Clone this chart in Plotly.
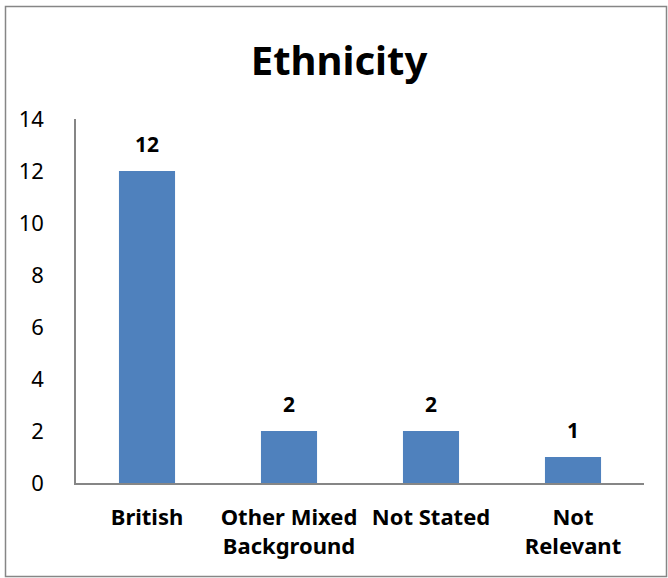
import plotly.graph_objects as go

# Data
categories = ["British", "Other Mixed<br>Background", "Not Stated", "Not<br>Relevant"]
counts = [12, 2, 2, 1]
y_ticks = [0, 2, 4, 6, 8, 10, 12, 14]

W, H = 668, 578
L, R, T, B = 76, 24, 119, 95
pw, ph = W - L - R, H - T - B

FONT = "Noto Sans"
BAR = "#4F81BD"
AXIS = "#868686"

fig = go.Figure(
    go.Bar(
        x=categories,
        y=counts,
        marker=dict(color=BAR, line=dict(width=0)),
        hoverinfo="skip",
    )
)

# Value labels above each bar
for c, v in zip(categories, counts):
    fig.add_annotation(
        x=c, y=v, text=str(v), showarrow=False,
        yanchor="bottom", yshift=11,
        font=dict(family=FONT, size=21, color="black", weight="bold"),
    )

# Outer chart frame
def px_x(p):
    return (p - L) / pw

def px_y(p):
    return (H - B - p) / ph

fig.add_shape(
    type="rect", xref="paper", yref="paper",
    x0=px_x(5.5), x1=px_x(666.5), y0=px_y(576.5), y1=px_y(6.5),
    line=dict(color=AXIS, width=1.5), fillcolor="rgba(0,0,0,0)", layer="below",
)

fig.update_layout(
    width=W, height=H,
    margin=dict(l=L, r=R, t=T, b=B),
    paper_bgcolor="white", plot_bgcolor="white",
    bargap=0.605,
    showlegend=False,
    title=dict(
        text="Ethnicity", x=(339) / W, xanchor="center",
        y=1 - 61 / H, yanchor="middle",
        font=dict(family=FONT, size=40, color="black", weight="bold"),
    ),
    font=dict(family=FONT, color="black"),
    xaxis=dict(
        showline=True, linecolor=AXIS, linewidth=2,
        showgrid=False, ticks="", zeroline=False,
        tickfont=dict(family=FONT, size=22, color="black", weight="bold"),
        ticklabelstandoff=14,
    ),
    yaxis=dict(
        range=[0, 14], tickvals=y_ticks,
        showline=True, linecolor=AXIS, linewidth=1.5,
        showgrid=False, ticks="", zeroline=False,
        tickfont=dict(family=FONT, size=22, color="black"),
        ticklabelstandoff=26,
    ),
)

fig.write_html("out.html")
